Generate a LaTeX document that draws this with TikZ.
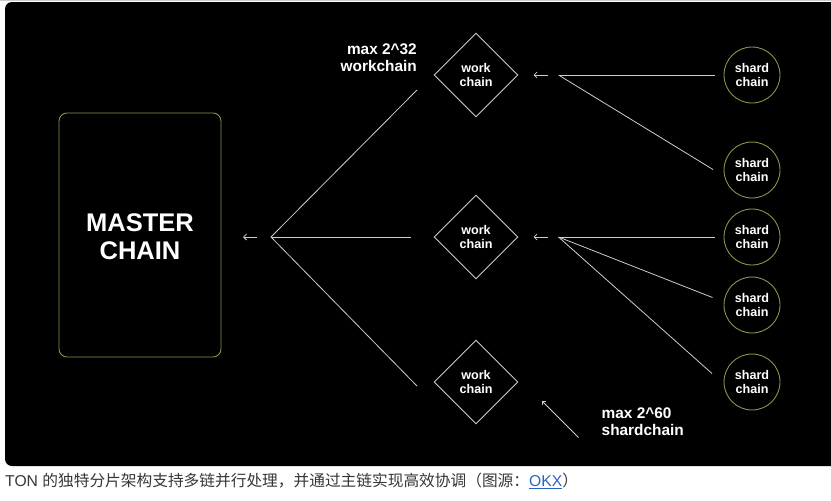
\documentclass[tikz,border=0pt]{standalone}
\usepackage{fontspec}
\setmainfont{Liberation Sans}
\newfontfamily\cjkfont{Noto Sans CJK SC}
\usetikzlibrary{shapes.geometric,arrows.meta}
\definecolor{panel}{RGB}{0,0,0}
\definecolor{olive}{RGB}{125,155,75}
\definecolor{wire}{RGB}{205,205,205}
\definecolor{captxt}{RGB}{55,55,55}
\definecolor{linkblue}{RGB}{40,100,200}
\begin{document}
\begin{tikzpicture}[x=1pt,y=-1pt,
  txt/.style={text=white,font=\bfseries,align=center},
  masterbox/.style={draw=olive,line width=0.9pt,rounded corners=8pt,minimum width=162pt,minimum height=244pt,inner sep=0pt,txt,font=\fontsize{25.5}{28}\selectfont\bfseries},
  wcbox/.style={draw=wire,line width=0.9pt,diamond,aspect=1,minimum width=84pt,minimum height=84pt,inner sep=0pt,txt,font=\fontsize{12.6}{14.3}\selectfont\bfseries},
  scbox/.style={draw=olive,line width=0.9pt,circle,minimum size=56pt,inner sep=0pt,txt,font=\fontsize{12.6}{14.3}\selectfont\bfseries},
  wireline/.style={draw=wire,line width=0.8pt},
  smallarrow/.style={draw=wire,line width=0.8pt,-{Straight Barb[length=3pt,width=6pt]}},
  lbl/.style={text=white,inner sep=0pt,font=\fontsize{15.4}{16.7}\selectfont\bfseries}
]
\useasboundingbox (0,0) rectangle (831,501);
\fill[white] (0,0) rectangle (831,501);
\draw[gray!40,line width=0.6pt] (0,0.6) -- (831,0.6);
\fill[panel,rounded corners=7pt] (5,2) rectangle (845,466);

% nodes
\node[masterbox] (master) at (140,235) {};
\node[txt,font=\fontsize{25.5}{28}\selectfont\bfseries] (mastertxt) at (140,237) {MASTER\\CHAIN};
\node[wcbox] (wc1) at (476,75) {work\\chain};
\node[wcbox] (wc2) at (476,237) {work\\chain};
\node[wcbox] (wc3) at (476,382) {work\\chain};
\node[scbox] (sc1) at (752,75) {shard\\chain};
\node[scbox] (sc2) at (752,170) {shard\\chain};
\node[scbox] (sc3) at (752,237) {shard\\chain};
\node[scbox] (sc4) at (752,305) {shard\\chain};
\node[scbox] (sc5) at (752,382) {shard\\chain};

\node[lbl,anchor=east,align=right] (lbl32) at (417,58) {max 2\textasciicircum 32\\workchain};
\node[lbl,anchor=west,align=left] (lbl60) at (601.5,422) {max 2\textasciicircum 60\\shardchain};

% junctions and free ends
\coordinate (j0) at (271,237);
\coordinate (j1) at (558.5,75);
\coordinate (j2) at (558.5,237);
\coordinate (e1) at (417,90);
\coordinate (e2) at (411,237);
\coordinate (e3) at (417,386);
\coordinate (f1) at (715,75);
\coordinate (f2) at (713,169.5);
\coordinate (f3) at (715,237);
\coordinate (f4) at (712.5,297.5);
\coordinate (f5) at (712,373.5);
\coordinate (a0s) at (257,237);
\coordinate (a0e) at (243,237);
\coordinate (a1s) at (548,75);
\coordinate (a1e) at (533.5,75);
\coordinate (a2s) at (548,237);
\coordinate (a2e) at (533.5,237);
\coordinate (a3s) at (578.5,437.5);
\coordinate (a3e) at (541.5,400.5);

% connectors
\draw[wireline] (e1) -- (j0) -- (e3);
\draw[wireline] (j0) -- (e2);
\draw[wireline] (j1) -- (f1);
\draw[wireline] (j1) -- (f2);
\draw[wireline] (j2) -- (f3);
\draw[wireline] (j2) -- (f4);
\draw[wireline] (j2) -- (f5);
\draw[smallarrow] (a0s) -- (a0e);
\draw[smallarrow] (a1s) -- (a1e);
\draw[smallarrow] (a2s) -- (a2e);
\draw[smallarrow] (a3s) -- (a3e);

% caption
\node[anchor=west,inner sep=0pt,text=captxt,font=\fontsize{15.7}{18}\selectfont] (cap) at (5,481)
  {TON {\cjkfont 的独特分片架构支持多链并行处理，并通过主链实现高效协调（图源：}\textcolor{linkblue}{\underline{OKX}}{\cjkfont ）}};
\end{tikzpicture}
\end{document}
